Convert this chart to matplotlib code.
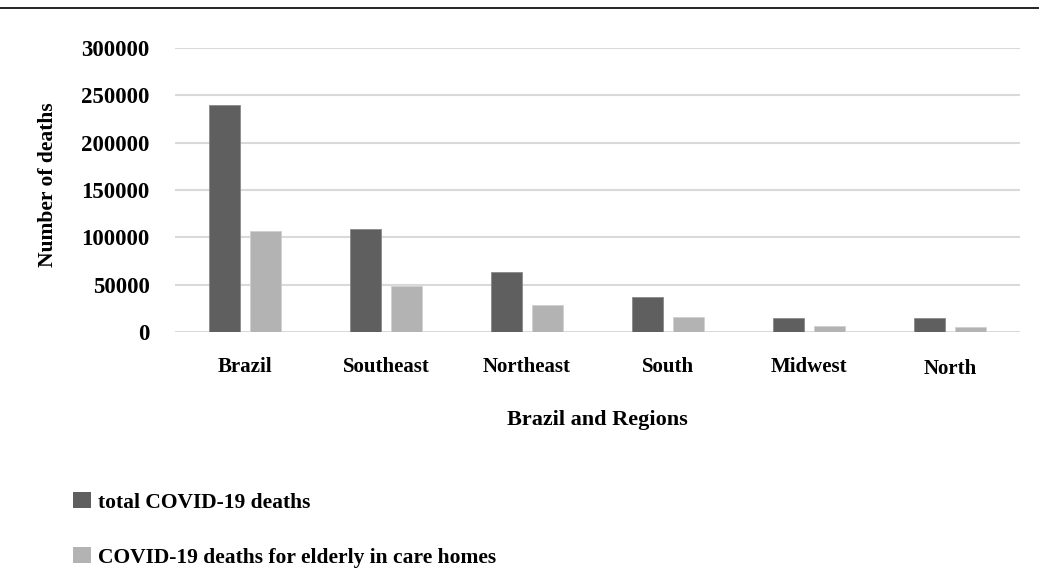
import matplotlib.pyplot as plt
import numpy as np
from matplotlib.patches import Patch
from matplotlib.lines import Line2D

regions = ["Brazil", "Southeast", "Northeast", "South", "Midwest", "North"]
total_deaths = [240000, 109000, 63000, 37000, 15300, 14300]
care_home_deaths = [107000, 48700, 28100, 16000, 6400, 5700]
yticks = [0, 50000, 100000, 150000, 200000, 250000, 300000]

dark = "#5f5f5f"
light = "#b3b3b3"

plt.rcParams['font.family'] = ['Liberation Serif', 'DejaVu Serif']
plt.rcParams['font.weight'] = 'bold'

fig = plt.figure(figsize=(10.39, 5.70), dpi=100)
ax = fig.add_axes([0.168, 0.4175, 0.814, 0.4985])

x = np.arange(len(regions))
w = 0.22
gap = 0.07
ax.bar(x - (w + gap) / 2, total_deaths, w, color=dark, edgecolor="#8a8a8a", linewidth=0.6, zorder=3)
ax.bar(x + (w + gap) / 2, care_home_deaths, w, color=light, edgecolor="#d0d0d0", linewidth=0.6, zorder=3)

ax.set_xlim(-0.5, len(regions) - 0.5)
ax.set_ylim(0, 300000)
ax.set_yticks(yticks)
ax.set_yticklabels([str(v) for v in yticks], fontsize=16.5, fontweight='bold')
ax.set_xticks(x)
ax.set_xticklabels(regions, fontsize=15, fontweight='bold')
ax.tick_params(axis='both', length=0)
ax.tick_params(axis='x', pad=18)
ax.tick_params(axis='y', pad=18)
ax.grid(axis='y', color="#d9d9d9", linewidth=1.5, zorder=0)
for s in ax.spines.values():
    s.set_visible(False)
# "North" sits a little lower in the original
ax.get_xticklabels()[-1].set_y(-0.008)

ax.set_xlabel("Brazil and Regions", fontsize=16, fontweight='bold', labelpad=22)
ax.set_ylabel("Number of deaths", fontsize=15.5, fontweight='bold', labelpad=17)
ax.yaxis.label.set_y(0.52)

handles = [Patch(facecolor=dark), Patch(facecolor=light)]
fig.legend(handles, ["total COVID-19 deaths", "COVID-19 deaths for elderly in care homes"],
           loc="lower left", bbox_to_anchor=(0.052, -0.03), frameon=False,
           labelspacing=1.6, handlelength=0.8, handleheight=0.8,
           handletextpad=0.36, prop={'weight': 'bold', 'size': 15.5})

fig.add_artist(Line2D([0, 1], [0.986, 0.986], color="black", linewidth=1.2, transform=fig.transFigure))

fig.savefig("out.png", dpi=100)
